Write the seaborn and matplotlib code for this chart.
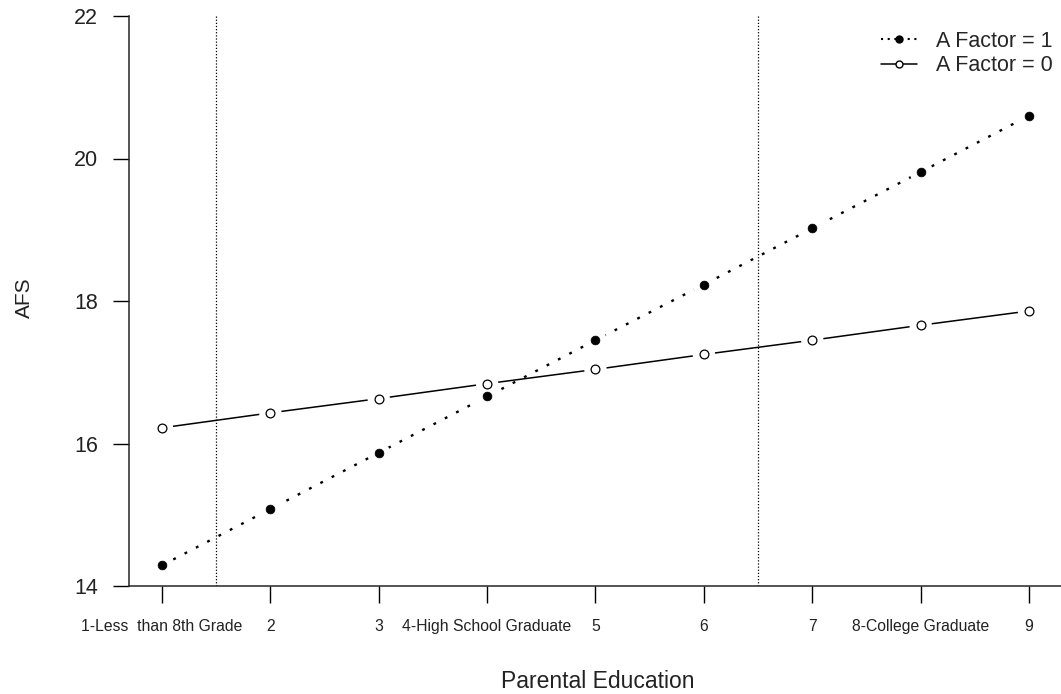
import matplotlib
matplotlib.use("Agg")
import matplotlib.pyplot as plt
import numpy as np
import pandas as pd
import seaborn as sns

# Data
education = [1, 2, 3, 4, 5, 6, 7, 8, 9]
afs_factor1 = [14.29, 15.08, 15.87, 16.66, 17.45, 18.23, 19.02, 19.81, 20.60]
afs_factor0 = [16.22, 16.43, 16.63, 16.84, 17.04, 17.25, 17.45, 17.66, 17.86]
edu_labels = ["1-Less  than 8th Grade", "2", "3", "4-High School Graduate", "5",
              "6", "7", "8-College Graduate", "9"]
y_ticks = [14, 16, 18, 20, 22]
cutoffs = [1.5, 6.5]

sns.set_style("ticks")
plt.rcParams["font.family"] = ["Liberation Sans", "DejaVu Sans"]

W, H = 1061, 694
fig = plt.figure(figsize=(W / 100, H / 100), dpi=100)
ax = fig.add_axes([129 / W, 108 / H, 932 / W, 570 / H])

df1 = pd.DataFrame({"edu": education, "afs": afs_factor1})
df0 = pd.DataFrame({"edu": education, "afs": afs_factor0})

# lines first
sns.lineplot(data=df1, x="edu", y="afs", color="black", lw=1.7,
             linestyle=(0, (1.2, 4.2)), ax=ax, zorder=2)
sns.lineplot(data=df0, x="edu", y="afs", color="black", lw=1.1, ax=ax, zorder=2)

# white halos so the lines stop short of the points (type="b" look)
for d in (df1, df0):
    ax.scatter(d["edu"], d["afs"], s=260, color="white", edgecolors="none", zorder=3)

sns.scatterplot(data=df1, x="edu", y="afs", color="black", s=40, marker="o",
                edgecolor="black", ax=ax, zorder=4)
sns.scatterplot(data=df0, x="edu", y="afs", facecolor="white", s=40, marker="o",
                edgecolor="black", linewidth=0.9, ax=ax, zorder=4)

for c in cutoffs:
    ax.axvline(c, color="black", lw=0.9, linestyle=(0, (1, 1.5)), zorder=1)

# legend proxies
h1, = ax.plot([], [], color="black", lw=1.5, linestyle=(0, (1, 2.2)), marker="o",
              markersize=5, markerfacecolor="black")
h0, = ax.plot([], [], color="black", lw=1.1, marker="o", markersize=5,
              markerfacecolor="white")
ax.legend([h1, h0], ["A Factor = 1", "A Factor = 0"], loc="upper left",
          bbox_to_anchor=(881 / W, 1 - 31 / H), bbox_transform=fig.transFigure,
          frameon=False, fontsize=15.5, borderpad=0, borderaxespad=0,
          handlelength=1.65, handletextpad=0.9, labelspacing=0.15)

ax.set_xlim(0.696, 9.295)
ax.set_ylim(14, 22)
ax.set_yticks(y_ticks)
ax.set_yticklabels([str(t) for t in y_ticks], fontsize=15.5, color="#222222")
ax.set_xticks(education)
ax.set_xticklabels(edu_labels, fontsize=11.3, color="#222222")
ax.tick_params(axis="x", length=12, width=1, pad=12, color="black")
ax.tick_params(axis="y", length=11.5, width=1, pad=11, color="black")

ax.set_xlabel("Parental Education", fontsize=16.5, color="#222222")
ax.xaxis.set_label_coords((598 - 129) / 932, -(681 - 586) / 570)
ax.xaxis.label.set_va("center")
ax.set_ylabel("AFS", fontsize=15, color="#222222")
ax.yaxis.set_label_coords((24 - 129) / 932, (586 - 298) / 570)
ax.yaxis.label.set_va("center")

sns.despine(ax=ax, top=True, right=True)
ax.spines["left"].set_linewidth(1.1)
ax.spines["bottom"].set_linewidth(1.1)
ax.grid(False)

fig.savefig("out.png", dpi=100)
